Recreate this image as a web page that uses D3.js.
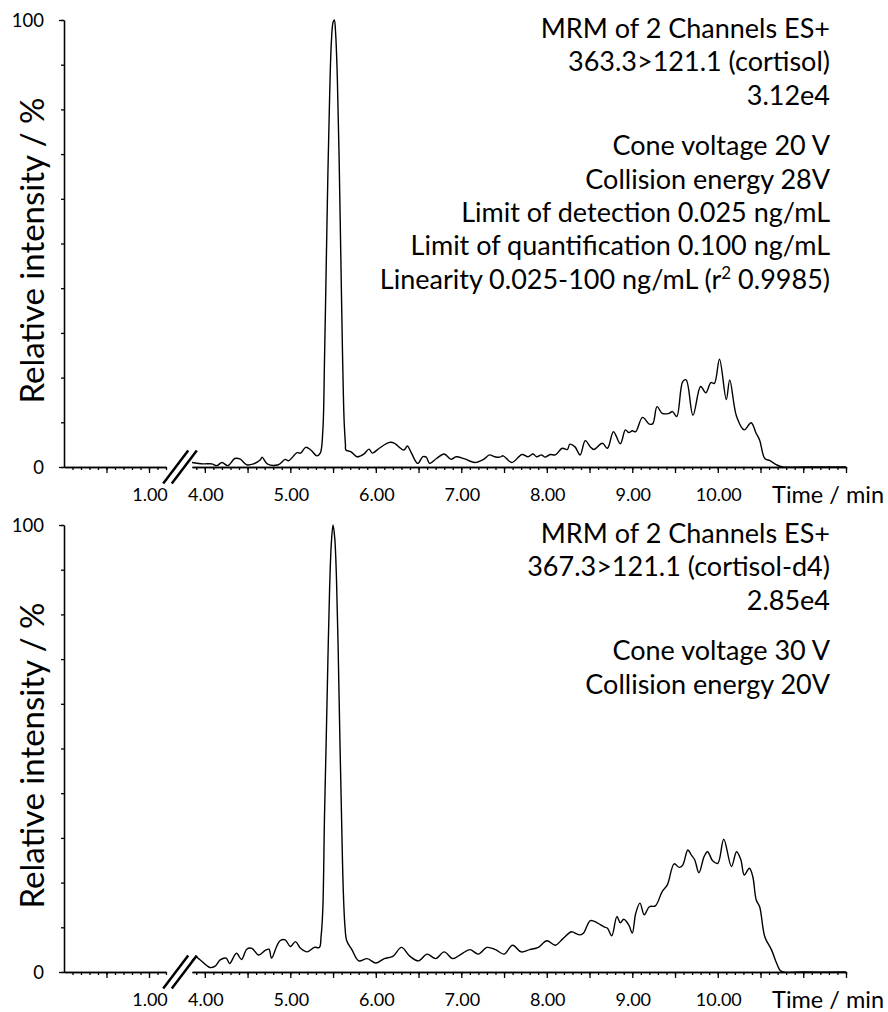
<!DOCTYPE html>
<html>
<head>
<meta charset="utf-8">
<script src="https://cdn.jsdelivr.net/npm/d3@7/dist/d3.min.js"></script>
<style>
body { margin: 0; background: #fff; }
text { font-family: Lato, "Open Sans", sans-serif; fill: #000; }
</style>
</head>
<body>
<svg id="chart" width="888" height="1012"></svg>
<script>
// cortisol trace (time in min, relative intensity in %)
var topTime = [3.85,3.98,4.08,4.14,4.20,4.27,4.35,4.41,4.49,4.57,4.65,4.67,4.73,4.86,4.94,4.98,5.08,5.12,5.18,5.24,5.31,5.35,
  5.38,5.40,5.42,5.44,5.46,5.48,5.50,5.515,5.53,5.55,5.57,5.59,5.61,5.63,5.645,
  5.65,5.71,5.78,5.86,5.92,5.96,6.04,6.16,6.22,6.27,6.33,6.37,6.41,6.49,6.55,6.59,6.63,6.71,6.80,6.88,6.94,7.04,7.16,7.26,7.33,7.39,7.45,7.49,7.59,
  7.71,7.78,7.84,7.88,7.94,7.98,8.04,8.10,8.18,8.24,8.27,8.33,8.39,8.45,8.51,8.55,8.65,8.71,8.78,8.86,8.92,8.96,9.00,9.04,9.12,9.20,9.24,9.29,9.35,9.43,9.47,9.52,
  9.59,9.63,9.71,9.80,9.86,9.92,9.96,10.02,10.10,10.14,10.22,10.31,10.39,10.45,10.49,10.55,10.61,10.69,10.76,11.0,11.5];
var topPct = [1.0,0.7,0.7,0.3,1.0,0.3,1.9,1.8,0.5,0.7,1.6,2.2,0.7,0.5,1.7,1.4,3.2,3.1,4.4,3.8,2.5,3.1,
  8,24,45,66,83,95,99.5,100,97,87,70,48,26,10,5,
  3.8,3.4,2.3,2.9,4.0,3.1,4.2,5.5,5.3,4.5,3.8,4.7,3.4,0.8,2.3,2.2,0.8,1.9,2.9,1.7,2.3,1.8,1.0,1.7,2.7,2.3,2.2,2.5,1.0,
  2.8,2.3,2.9,2.3,2.7,2.2,2.8,2.7,4.2,3.9,5.1,4.5,2.7,5.9,4.5,3.9,5.3,4.2,7.9,5.2,8.3,7.7,8.1,7.9,11.1,9.6,9.7,13.5,12.0,12.0,12.4,11.3,
  19.1,19.5,11.6,18.0,16.6,18.9,18.7,24.1,15.1,19.5,11.3,8.3,9.9,7.5,6.0,1.9,1.4,0.45,0,0,0];

// cortisol-d4 trace
var botTime = [3.85,3.90,3.94,4.06,4.12,4.18,4.25,4.29,4.37,4.43,4.49,4.55,4.63,4.71,4.75,4.78,4.84,4.88,4.94,5.00,5.06,5.12,5.20,5.28,5.34,
  5.36,5.38,5.40,5.42,5.44,5.46,5.48,5.50,5.52,5.54,5.56,5.58,5.60,5.62,5.64,5.66,
  5.72,5.80,5.90,6.00,6.10,6.20,6.30,6.40,6.50,6.60,6.70,6.80,6.90,7.00,7.10,7.20,7.30,7.40,7.50,7.60,7.70,7.80,7.90,8.00,8.10,
  8.18,8.26,8.29,8.39,8.43,8.51,8.59,8.67,8.71,8.76,8.82,8.86,8.90,8.96,9.00,9.04,9.09,9.14,9.20,9.27,9.35,9.41,9.49,9.55,9.59,9.65,9.69,9.73,9.78,9.84,9.88,9.94,10.00,
  10.07,10.16,10.22,10.27,10.31,10.37,10.41,10.45,10.49,10.55,10.63,10.69,10.74,11.0,11.5];
var botPct = [2.5,3.3,2.8,1.0,1.3,2.7,3.1,1.9,4.2,2.8,5.1,5.3,3.8,4.9,5.1,3.1,5.7,7.0,7.2,5.7,6.8,5.3,4.5,5.5,5.5,
  8,14,35,52,70,86,96,100,97,88,72,52,34,18,10,7,
  5.0,2.5,3.0,2.0,3.0,3.5,5.5,3.5,2.5,4.0,3.0,4.5,3.0,4.0,5.0,4.0,5.5,5.0,4.0,6.0,4.5,5.0,5.5,7.0,6.0,
  7.3,8.7,9.0,8.3,8.7,11.5,11.0,10.1,9.8,8.1,12.4,11.0,11.8,10.5,8.7,13.1,15.4,12.8,14.6,14.8,18.0,19.5,24.2,23.4,23.9,27.3,26.2,25.1,22.2,25.8,26.9,24.9,24.3,
  29.7,23.6,26.9,25.1,21.7,23.2,21.3,16.1,14.6,7.9,4.9,1.9,0.2,0,0];

var xTickLabels = [1, 4, 5, 6, 7, 8, 9, 10];
var yTickLabels = [0, 100];

var topNotes = ['MRM of 2 Channels ES+', '363.3>121.1 (cortisol)', '3.12e4', '',
  'Cone voltage 20 V', 'Collision energy 28V', 'Limit of detection 0.025 ng/mL',
  'Limit of quantification 0.100 ng/mL', 'Linearity 0.025-100 ng/mL (r|2| 0.9985)'];
var botNotes = ['MRM of 2 Channels ES+', '367.3>121.1 (cortisol-d4)', '2.85e4', '',
  'Cone voltage 30 V', 'Collision energy 20V'];

var svg = d3.select('#chart');

// broken time axis: 0-1.2 min, then 3.85-11.5 min
var seg1 = d3.scaleLinear().domain([0, 1.2]).range([64, 166]);
var seg2 = d3.scaleLinear().domain([3.85, 11.5]).range([192, 846]);
function xPos(t) { return t <= 1.2 ? seg1(t) : seg2(t); }

function drawPanel(top, bottom, time, pct, notes) {
  var g = svg.append('g');
  var y = d3.scaleLinear().domain([0, 100]).range([bottom, top]);

  // y axis
  var yAxis = d3.axisLeft(y).tickValues(d3.range(0, 101, 10)).tickSize(3).tickSizeOuter(0).tickFormat('');
  g.append('g').attr('transform', 'translate(64,0)').call(yAxis);
  g.append('g').attr('transform', 'translate(64,0)')
    .call(d3.axisLeft(y).tickValues([0, 100]).tickSize(5).tickSizeOuter(0).tickFormat(''));
  g.selectAll('.ylab').data(yTickLabels).enter().append('text')
    .attr('x', 44).attr('y', function(d) { return y(d) + 6.5; })
    .attr('text-anchor', 'end').style('font-size', '18.5px')
    .text(function(d) { return d; });

  // x axis, two pieces
  [[seg1, d3.range(0.1, 1.21, 0.1)], [seg2, d3.range(3.9, 11.51, 0.1)]].forEach(function(p) {
    var minor = p[1].map(function(v) { return Math.round(v * 10) / 10; });
    var major = minor.filter(function(v) { return Math.abs(v * 2 - Math.round(v * 2)) < 1e-6; });
    g.append('g').attr('transform', 'translate(0,' + bottom + ')')
      .call(d3.axisBottom(p[0]).tickValues(minor).tickSize(3).tickSizeOuter(0).tickFormat(''));
    g.append('g').attr('transform', 'translate(0,' + bottom + ')')
      .call(d3.axisBottom(p[0]).tickValues(major).tickSize(6).tickSizeOuter(0).tickFormat(''));
  });
  g.selectAll('.tick line, .domain').attr('stroke', '#000').attr('stroke-width', 1.3);

  g.selectAll('.xlab').data(xTickLabels).enter().append('text')
    .attr('x', function(d) { return xPos(d) + 1; }).attr('y', bottom + 34)
    .attr('text-anchor', 'middle').style('font-size', '18px')
    .text(function(d) { return d.toFixed(2); });
  g.append('text').attr('x', 884).attr('y', bottom + 36).attr('text-anchor', 'end')
    .style('font-size', '23.5px').text('Time / min');

  // break marks
  var mid = (seg1.range()[1] + seg2.range()[0]) / 2 + 1;
  [-4.3, 4.3].forEach(function(o) {
    g.append('line').attr('x1', mid + o - 12.5).attr('y1', bottom + 16.5)
      .attr('x2', mid + o + 12.5).attr('y2', bottom - 16.5)
      .attr('stroke', '#000').attr('stroke-width', 2.5);
  });

  // y label
  g.append('text')
    .attr('transform', 'translate(44,' + ((top + bottom) / 2 + 7) + ') rotate(-90)')
    .attr('text-anchor', 'middle').style('font-size', '33px')
    .text('Relative intensity / %');

  // trace
  var line = d3.line()
    .x(function(d) { return seg2(d[0]); })
    .y(function(d) { return y(d[1]); })
    .curve(d3.curveCatmullRom.alpha(0.5));
  g.append('path').datum(d3.zip(time, pct))
    .attr('fill', 'none').attr('stroke', '#000').attr('stroke-width', 1.4)
    .attr('d', line);

  // notes, right aligned
  var ty = top + 18;
  notes.forEach(function(s) {
    if (s === '') { ty += 17; return; }
    var t = g.append('text').attr('x', 830).attr('y', ty).attr('text-anchor', 'end')
      .style('font-size', '27px');
    var parts = s.split('|');
    t.append('tspan').text(parts[0]);
    if (parts.length > 1) {
      t.append('tspan').attr('dy', -10).style('font-size', '17px').text(parts[1]);
      t.append('tspan').attr('dy', 10).text(parts[2]);
    }
    ty += 33.4;
  });
}

drawPanel(20, 467, topTime, topPct, topNotes);
drawPanel(525, 972, botTime, botPct, botNotes);
</script>
</body>
</html>
